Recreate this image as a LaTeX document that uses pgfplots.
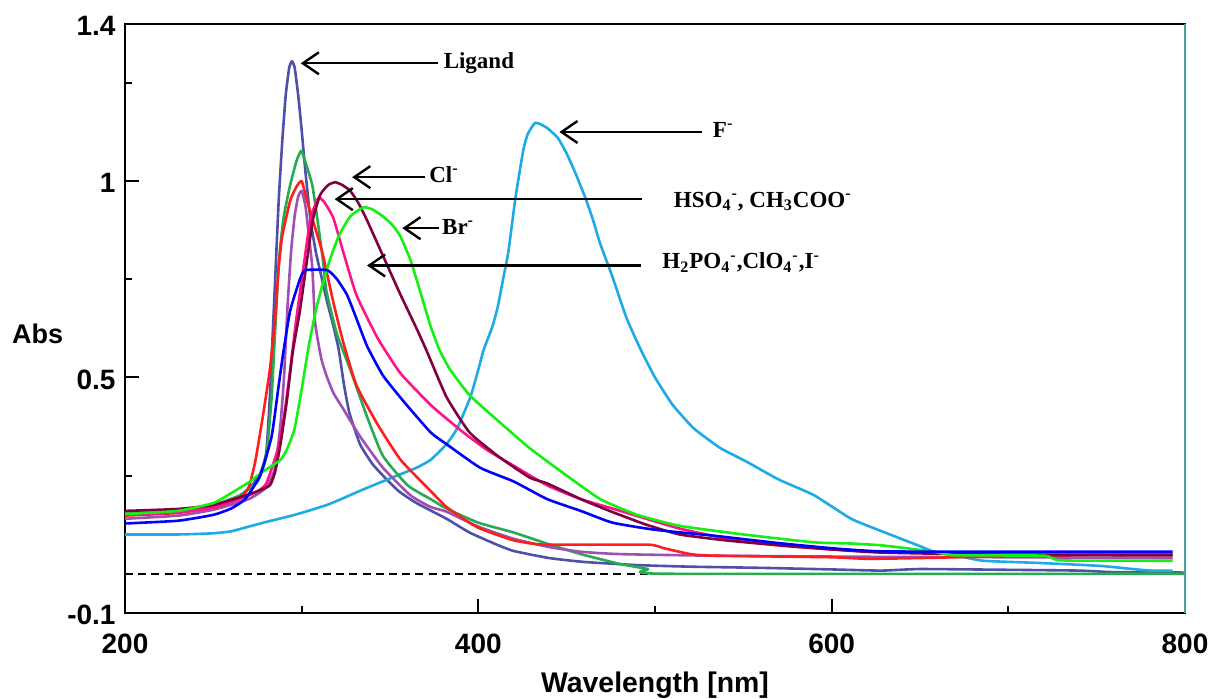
\documentclass[border=0pt]{standalone}
\usepackage{fontspec}
\setmainfont{Liberation Sans}
\newfontfamily\tnr{Liberation Serif}
\usepackage{pgfplots}
\pgfplotsset{compat=1.18}
\usetikzlibrary{arrows.meta}

\definecolor{cLig}{RGB}{80,80,170}
\definecolor{cF}{RGB}{30,170,230}
\definecolor{cCl}{RGB}{128,0,64}
\definecolor{cHSO}{RGB}{255,20,135}
\definecolor{cBr}{RGB}{20,240,20}
\definecolor{cGrn}{RGB}{40,170,80}
\definecolor{cRed}{RGB}{255,30,30}
\definecolor{cPur}{RGB}{160,80,180}
\definecolor{cBlu}{RGB}{0,0,255}
\definecolor{frameR}{RGB}{70,160,160}

\tikzset{
  anno/.style={font=\tnr\bfseries\fontsize{11.5}{12}\selectfont, inner sep=0pt},
  arr/.style={line width=1.2pt, -{Straight Barb[length=8pt, width=11pt]}},
}

\begin{document}
\begin{tikzpicture}
\path[use as bounding box] (-62.5pt,-42.5pt) rectangle (542pt,306.5pt);
\begin{axis}[
  name=ax,
  at={(0pt,0pt)}, anchor=south west,
  scale only axis, width=530pt, height=294.5pt,
  xmin=200, xmax=800, ymin=-0.1, ymax=1.4,
  xtick={200,400,600,800}, xticklabels={200,400,600,800},
  minor xtick={300,500,700},
  ytick={-0.1,0.5,1,1.4}, yticklabels={-0.1,0.5,1,1.4},
  minor ytick={0,0.25,0.75,1.25},
  tick pos=left, tick align=inside,
  major tick length=7pt, minor tick length=3.5pt,
  every tick/.style={black, line width=1pt},
  axis line style={line width=1.2pt},
  ticklabel style={font=\bfseries\fontsize{14}{14}\selectfont},
  xticklabel style={yshift=-7pt},
  yticklabel style={xshift=-1.2pt, yshift=-1pt},
  xlabel={Wavelength [nm]}, ylabel={Abs},
  xlabel style={font=\bfseries\fontsize{14.2}{14}\selectfont, at={(axis description cs:0.5,-0.122)}, anchor=center},
  ylabel style={font=\bfseries\fontsize{13.5}{14}\selectfont, at={(axis description cs:-0.0825,0.474)}, anchor=center, rotate=-90},
  every axis plot/.append style={line width=1.3pt, line join=round, smooth, tension=0.3},
]
% zero line
\addplot[black, line width=0.9pt, dash pattern=on 4pt off 2.6pt, sharp plot] coordinates {(200,0) (800,0)};

% ligand
\addplot[cLig] coordinates {
(200,0.158) (220,0.160) (240,0.168) (255,0.180) (265,0.198) (272,0.225) (277,0.26) (280,0.31)
(282,0.45) (283.5,0.60) (285,0.75) (287,0.95) (289,1.10) (291,1.22) (293,1.29) (294.5,1.305)
(296,1.29) (298,1.22) (300,1.13) (302,1.03) (305,0.90) (308,0.82) (311,0.76) (314,0.70)
(318,0.63) (321,0.57) (324,0.48) (327,0.41) (333,0.33) (340,0.28) (346,0.25) (355,0.21)
(365,0.18) (382,0.14) (395,0.105) (410,0.075) (420,0.058) (440,0.04) (460,0.03) (490,0.022)
(520,0.018) (560,0.015) (600,0.011) (628,0.008) (650,0.012) (700,0.01) (740,0.008) (760,0.004) (800,0.003)};

% F-
\addplot[cF] coordinates {
(200,0.10) (230,0.10) (250,0.103) (260,0.108) (270,0.12) (280,0.132) (290,0.143) (300,0.155)
(316,0.178) (335,0.215) (354,0.25) (365,0.27) (373,0.29) (382,0.33) (388,0.37) (395.5,0.45)
(400,0.52) (403,0.57) (408,0.63) (411,0.68) (414,0.75) (417,0.82) (421,0.957) (425.5,1.08)
(428,1.12) (432,1.148) (435,1.145) (439,1.135) (445,1.11) (450,1.07) (455,1.02) (460.6,0.957)
(465,0.90) (469,0.84) (475.6,0.76) (484,0.65) (492,0.57) (500,0.50) (510,0.43) (522,0.37)
(537,0.32) (552,0.285) (570,0.24) (590,0.20) (611,0.14) (629,0.107) (649,0.072) (658,0.056)
(672,0.045) (686,0.033) (720,0.027) (752,0.02) (770,0.012) (781,0.008) (793,0.008)};

% medium green
\addplot[cGrn] coordinates {
(200,0.155) (230,0.162) (250,0.175) (265,0.20) (275,0.235) (280,0.30) (283,0.45) (285,0.62)
(287,0.79) (289.7,0.905) (293.5,0.99) (297,1.05) (299.7,1.077) (302,1.05) (306,0.99) (309,0.90)
(312,0.80) (314,0.72) (320,0.61) (327.5,0.52) (337,0.40) (346,0.30) (360,0.225) (373,0.19)
(382,0.166) (400,0.13) (420,0.105) (440,0.075) (458,0.05) (480,0.025) (496,0.012)
(505,0.0) (800,0.0)};

% purple
\addplot[cPur] coordinates {
(200,0.14) (230,0.148) (250,0.163) (270,0.19) (280,0.22) (285,0.27) (288,0.38) (290,0.50)
(292,0.68) (294,0.82) (296,0.91) (298,0.96) (300,0.975) (302,0.94) (303,0.905) (306,0.78)
(307.6,0.64) (311,0.55) (314,0.505) (318,0.46) (323.5,0.42) (333,0.35) (346,0.27) (361.5,0.20)
(373,0.17) (382,0.158) (400,0.12) (420,0.089) (440,0.068) (458,0.056) (480,0.05)
(533,0.046) (628,0.043) (700,0.042) (793,0.040)};

% red
\addplot[cRed] coordinates {
(200,0.148) (230,0.155) (250,0.17) (265,0.195) (270,0.22) (273.7,0.285) (278,0.40) (282,0.52)
(285,0.65) (287,0.78) (289,0.86) (293.5,0.95) (297,0.985) (300,1.0) (303,0.95) (306,0.905)
(311.6,0.82) (318,0.69) (323.5,0.59) (331,0.48) (343,0.38) (356,0.29) (371,0.22) (382,0.17)
(395,0.13) (401,0.115) (410,0.10) (420,0.085) (430,0.077)
(439,0.074) (496,0.074) (505,0.065) (520,0.05) (533,0.046) (600,0.042) (620,0.038) (650,0.040)
(700,0.045) (750,0.048) (793,0.048)};

% pink (HSO4-, CH3COO-)
\addplot[cHSO] coordinates {
(200,0.15) (230,0.156) (250,0.168) (265,0.19) (275,0.21) (280,0.23) (286,0.31) (290,0.40)
(293.5,0.52) (297,0.65) (301,0.78) (305,0.905) (309.5,0.957) (313,0.945) (318,0.905) (323.5,0.82)
(331,0.71) (343,0.60) (356,0.51) (373,0.43) (382,0.395) (391.5,0.36) (405,0.315) (420,0.275) (439,0.225)
(458,0.19) (476,0.166) (495,0.14) (514,0.115) (540,0.09) (571,0.072) (600,0.062) (628,0.056)
(700,0.052) (793,0.050)};

% maroon (Cl-)
\addplot[cCl] coordinates {
(200,0.16) (230,0.165) (250,0.175) (265,0.195) (275,0.21) (282,0.225) (285,0.26) (288,0.33)
(291.6,0.44) (295,0.566) (299,0.67) (303.7,0.82) (306.5,0.905) (310.5,0.965) (315,0.99)
(319,0.997) (323,0.99) (327.5,0.975) (332,0.945) (337,0.90) (346,0.81) (356,0.71) (365,0.625)
(371,0.565) (382,0.45) (395,0.36) (411,0.30) (429,0.245) (439,0.23)
(458,0.19) (476,0.157) (495,0.125) (514,0.10) (540,0.085) (571,0.072) (600,0.062) (628,0.054)
(700,0.048) (793,0.047)};

% lime (Br-)
\addplot[cBr] coordinates {
(200,0.152) (230,0.16) (250,0.18) (260,0.205) (270.8,0.235) (278,0.26) (288,0.29) (292,0.32)
(296,0.37) (300,0.47) (304,0.58) (308,0.67) (312,0.74) (316,0.80) (321,0.86) (327.5,0.91)
(335,0.933) (340,0.928) (346,0.91) (351,0.89) (355.8,0.86) (361.5,0.80) (365,0.75) (369,0.69)
(373,0.63) (378,0.57) (384,0.52) (395,0.455) (411,0.39) (429,0.32)
(450,0.25) (469,0.19) (490,0.15) (514,0.122) (550,0.10) (590,0.08) (611,0.077) (629,0.072)
(658,0.056) (670,0.047) (720,0.046) (730,0.034) (793,0.033)};

% blue
\addplot[cBlu] coordinates {
(200,0.128) (230,0.135) (250,0.150) (260,0.166) (268,0.19) (276.5,0.25) (283,0.35) (287,0.48)
(289.7,0.566) (293.5,0.67) (299,0.75) (302,0.773) (314.5,0.773) (320,0.75) (325.7,0.71) (331,0.65)
(337,0.58) (346,0.505) (357.5,0.44) (373,0.36) (382,0.33) (401,0.27) (420,0.235) (439,0.19) (458,0.16)
(476,0.13) (500,0.112) (533,0.097) (570,0.078) (600,0.065) (628,0.057) (700,0.056) (793,0.056)};

% labels with arrows
\draw[arr] (axis cs:377.3,1.30) -- (axis cs:299.5,1.30);
\node[anno, anchor=mid west] at (axis cs:380.2,1.30) {Ligand};
\draw[arr] (axis cs:526.7,1.125) -- (axis cs:445.9,1.125);
\node[anno, anchor=mid west] at (axis cs:532.6,1.125) {F\textsuperscript{-}};
\draw[arr] (axis cs:370,1.01) -- (axis cs:328.6,1.01);
\node[anno, anchor=mid west] at (axis cs:372,1.01) {Cl\textsuperscript{-}};
\draw[arr] (axis cs:492.8,0.954) -- (axis cs:318.7,0.954);
\node[anno, anchor=mid west] at (axis cs:510.5,0.947) {HSO\textsubscript{4}\textsuperscript{-}, CH\textsubscript{3}COO\textsuperscript{-}};
\draw[arr] (axis cs:377.6,0.88) -- (axis cs:357,0.88);
\node[anno, anchor=mid west] at (axis cs:379.3,0.877) {Br\textsuperscript{-}};
\draw[arr] (axis cs:491.8,0.785) -- (axis cs:337,0.785);
\node[anno, anchor=mid west] at (axis cs:504,0.79) {H\textsubscript{2}PO\textsubscript{4}\textsuperscript{-},ClO\textsubscript{4}\textsuperscript{-},I\textsuperscript{-}};
\end{axis}
\draw[frameR, line width=1.2pt] (ax.south east) -- (ax.north east);
\end{tikzpicture}
\end{document}
